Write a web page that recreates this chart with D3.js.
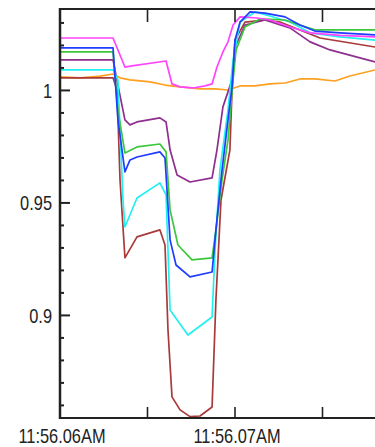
<!DOCTYPE html>
<html>
<head>
<meta charset="utf-8">
<script src="https://cdn.jsdelivr.net/npm/d3@7"></script>
<style>
  body { margin: 0; background: #fff; }
  .tick-label { font-family: "Liberation Sans", Arial, sans-serif; font-size: 20px; fill: #222; }
</style>
</head>
<body>
<div id="chart"></div>
<script>
// values: [seconds after 11:56:06, ratio]
var orange = [[0,1.006],[0.114,1.0056],[0.229,1.0064],[0.303,1.0073],[0.343,1.0056],[0.4,1.0047],[0.514,1.0038],[0.6,1.0024],[0.686,1.0016],[0.8,1.0007],[0.886,1.0007],[0.96,1.0002],[1.029,1.002],[1.114,1.002],[1.2,1.0029],[1.286,1.0033],[1.371,1.0051],[1.457,1.0051],[1.571,1.0042],[1.657,1.0064],[1.8,1.0091]];
var brown = [[0,1.0056],[0.303,1.0056],[0.326,1.0002],[0.343,0.9602],[0.371,0.9256],[0.44,0.9349],[0.571,0.938],[0.6,0.9313],[0.617,0.8936],[0.64,0.8638],[0.686,0.858],[0.743,0.855],[0.8,0.8553],[0.869,0.8593],[0.891,0.9069],[0.92,0.9513],[0.971,0.9736],[0.983,1.0002],[1.0,1.0224],[1.057,1.0304],[1.171,1.0313],[1.257,1.0304],[1.371,1.0269],[1.486,1.0233],[1.8,1.0193]];
var purple = [[0,1.0136],[0.303,1.0136],[0.331,1.0024],[0.371,0.9869],[0.4,0.9847],[0.44,0.986],[0.571,0.9878],[0.606,0.986],[0.629,0.9736],[0.669,0.9624],[0.743,0.9593],[0.869,0.9611],[0.897,0.9736],[0.931,0.9927],[0.983,1.0047],[1.006,1.0202],[1.057,1.0291],[1.171,1.0313],[1.314,1.0278],[1.429,1.0216],[1.543,1.018],[1.8,1.0127]];
var cyan = [[0,1.0091],[0.303,1.0091],[0.331,1.0047],[0.36,0.9513],[0.371,0.9393],[0.44,0.9522],[0.571,0.9589],[0.606,0.9536],[0.629,0.9024],[0.731,0.8913],[0.869,0.8993],[0.886,0.9291],[0.914,0.9647],[0.96,0.9913],[0.989,1.0136],[1.029,1.0304],[1.114,1.0349],[1.2,1.0331],[1.314,1.0304],[1.429,1.0256],[1.6,1.0238],[1.8,1.0224]];
var green = [[0,1.0171],[0.303,1.0171],[0.331,0.9913],[0.371,0.9722],[0.44,0.9749],[0.571,0.9762],[0.606,0.9727],[0.629,0.9469],[0.674,0.9313],[0.754,0.9247],[0.869,0.9256],[0.891,0.938],[0.926,0.9602],[0.96,0.978],[0.989,1.0047],[1.006,1.018],[1.057,1.0282],[1.143,1.0318],[1.286,1.0313],[1.371,1.0291],[1.457,1.0269],[1.8,1.0269]];
var magenta = [[0,1.0233],[0.303,1.0233],[0.371,1.0104],[0.411,1.0109],[0.606,1.0131],[0.64,1.0029],[0.686,1.0016],[0.76,1.0011],[0.829,1.002],[0.869,1.0029],[0.897,1.0104],[0.931,1.0171],[0.96,1.0216],[0.989,1.0291],[1.029,1.0327],[1.126,1.0322],[1.2,1.0313],[1.314,1.0282],[1.429,1.0256],[1.6,1.0245],[1.8,1.0238]];
var blue = [[0,1.0189],[0.303,1.0189],[0.331,0.9869],[0.371,0.9638],[0.4,0.9691],[0.44,0.9704],[0.571,0.9727],[0.6,0.97],[0.629,0.9336],[0.663,0.9224],[0.743,0.9171],[0.869,0.9193],[0.891,0.938],[0.926,0.9647],[0.96,0.9869],[0.983,1.0016],[1.0,1.0224],[1.029,1.0304],[1.086,1.0349],[1.171,1.0344],[1.286,1.0327],[1.371,1.0291],[1.457,1.0264],[1.6,1.0256],[1.8,1.0247]];

var seriesList = [orange, brown, purple, cyan, green, magenta, blue];
var seriesColors = ["#ffa020", "#a83a3a", "#8e2e8e", "#22f0f0", "#3cc83c", "#ff44ff", "#1f3cff"];

var yMajor = [0.9, 0.95, 1];
var yDomain = [0.8544, 1.0362];

var W = 375, H = 447;
var mLeft = 60, mTop = 9, mBottom = 418, mRight = 410;

var t0 = new Date(2000, 0, 1, 11, 56, 6);
var x = d3.scaleTime()
	.domain([t0, new Date(+t0 + 2000)])
	.range([mLeft, mRight]);
var y = d3.scaleLinear()
	.domain(yDomain)
	.range([mBottom, mTop]);

var svg = d3.select("#chart").append("svg")
	.attr("width", W)
	.attr("height", H);

svg.append("clipPath").attr("id", "clip")
	.append("rect")
	.attr("x", mLeft).attr("y", mTop)
	.attr("width", mRight - mLeft).attr("height", mBottom - mTop);

var line = d3.line()
	.x(function(d) { return x(new Date(+t0 + d[0] * 1000)); })
	.y(function(d) { return y(d[1]); });

svg.append("g").attr("clip-path", "url(#clip)")
	.selectAll("path").data(seriesList).enter()
	.append("path")
	.attr("d", line)
	.style("fill", "none")
	.style("stroke", function(d, i) { return seriesColors[i]; })
	.style("stroke-width", 1.7)
	.style("stroke-linejoin", "round");

// frame
svg.append("line").attr("x1", mLeft).attr("x2", W).attr("y1", mTop).attr("y2", mTop)
	.style("stroke", "#222").style("stroke-width", 2);
svg.append("line").attr("x1", mLeft).attr("x2", W).attr("y1", mBottom).attr("y2", mBottom)
	.style("stroke", "#222").style("stroke-width", 2);
svg.append("line").attr("x1", mLeft).attr("x2", mLeft).attr("y1", mTop - 1).attr("y2", mBottom + 1)
	.style("stroke", "#222").style("stroke-width", 2.5);

// x ticks (every 0.5 s), labels on whole seconds
var fmt = d3.timeFormat("%I:%M.%S%p");
var xTicks = x.ticks(d3.timeMillisecond.every(500)).filter(function(d) { return x(d) > mLeft + 1; });
xTicks.forEach(function(d) {
	svg.append("line").attr("x1", x(d)).attr("x2", x(d)).attr("y1", mTop).attr("y2", mTop + 13)
		.style("stroke", "#222").style("stroke-width", 1.6);
	svg.append("line").attr("x1", x(d)).attr("x2", x(d)).attr("y1", mBottom).attr("y2", mBottom - 11)
		.style("stroke", "#222").style("stroke-width", 1.6);
});
x.ticks(d3.timeSecond.every(1)).filter(function(d) { return x(d) < W - 50; }).forEach(function(d) {
	svg.append("text").attr("class", "tick-label")
		.attr("transform", "translate(" + (x(d) + 2) + ",443) scale(0.82,1)")
		.attr("text-anchor", "middle")
		.text(fmt(d));
});

// y ticks
var yMinor = d3.range(86, 104).map(function(k) { return k / 100; });
yMinor.forEach(function(v) {
	var isMajor = yMajor.some(function(m) { return Math.abs(m - v) < 1e-6; });
	svg.append("line").attr("x1", mLeft).attr("x2", mLeft + (isMajor ? 10 : 4))
		.attr("y1", y(v)).attr("y2", y(v))
		.style("stroke", "#222").style("stroke-width", 2);
});
yMajor.forEach(function(v) {
	svg.append("text").attr("class", "tick-label")
		.attr("transform", "translate(52," + y(v) + ") scale(0.82,1)")
		.attr("dy", "0.36em")
		.attr("text-anchor", "end")
		.text(d3.format("")(v));
});
</script>
</body>
</html>
